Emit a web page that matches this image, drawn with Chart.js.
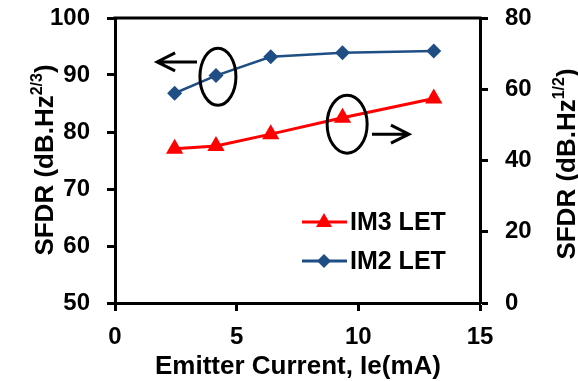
<!DOCTYPE html>
<html>
<head>
<meta charset="utf-8">
<script src="https://cdn.jsdelivr.net/npm/chart.js@4/dist/chart.umd.min.js"></script>
<style>
  html, body { margin: 0; padding: 0; background: #fff; }
  #wrap { width: 578px; height: 381px; }
</style>
</head>
<body>
<div id="wrap"><canvas id="sfdrChart"></canvas></div>
<script>
  // emitter current (mA)
  const current = [2.45, 4.15, 6.4, 9.35, 13.1];
  // IM2 LET -> left axis, dB.Hz^2/3
  const im2 = [86.8, 89.9, 93.2, 93.9, 94.2];
  // IM3 LET -> right axis, dB.Hz^1/2
  const im3 = [43.3, 44.1, 47.4, 52.0, 57.4];

  const xTicks = [0, 5, 10, 15];
  const leftTicks = [50, 60, 70, 80, 90, 100];
  const rightTicks = [0, 20, 40, 60, 80];

  const RED = '#ff0000';
  const BLUE = '#1f4e85';
  const FONT = 'Liberation Sans, Arial, sans-serif';

  const tickFont = { family: FONT, size: 24, weight: 'bold' };

  function axisStyle() {
    return {
      border: { display: true, color: '#000', width: 3 },
      grid: { display: true, drawOnChartArea: false, drawTicks: true, tickLength: 8, tickColor: '#000', tickWidth: 3 },
    };
  }

  function fitV(w) {
    return s => { s.width = w; s.paddingTop = 0; s.paddingBottom = 0; };
  }

  // ellipses + arrows pointing to the axis each curve belongs to
  const notes = [
    { axis: 'y', ex: 4.23, ey: 89.7, rx: 18, ry: 28.5, from: [3.37, 92.3], to: [1.73, 92.3] },
    { axis: 'y2', ex: 9.54, ey: 50.2, rx: 20, ry: 29, from: [10.56, 47.4], to: [12.08, 47.4] }
  ];

  function drawTitle(ctx, x, y, main, sup) {
    ctx.save();
    ctx.translate(x, y);
    ctx.rotate(-Math.PI / 2);
    ctx.fillStyle = '#000';
    ctx.textBaseline = 'alphabetic';
    const big = 'bold 26px ' + FONT;
    const small = 'bold 16px ' + FONT;
    ctx.font = big;
    const w1 = ctx.measureText(main).width;
    const w3 = ctx.measureText(')').width;
    ctx.font = small;
    const w2 = ctx.measureText(sup).width;
    let cx = -(w1 + w2 + w3) / 2;
    ctx.font = big;
    ctx.fillText(main, cx, 0);
    cx += w1;
    ctx.font = small;
    ctx.fillText(sup, cx, -11);
    cx += w2;
    ctx.font = big;
    ctx.fillText(')', cx, 0);
    ctx.restore();
  }

  const extras = {
    id: 'extras',
    afterDraw(chart) {
      const ctx = chart.ctx;
      const { left, right, top } = chart.chartArea;
      const xs = chart.scales.x;

      // top frame line
      ctx.save();
      ctx.strokeStyle = '#000';
      ctx.lineWidth = 3;
      ctx.beginPath();
      ctx.moveTo(left - 1.5, top);
      ctx.lineTo(right + 1.5, top);
      ctx.stroke();

      // annotations
      ctx.lineWidth = 3;
      notes.forEach(n => {
        const ys = chart.scales[n.axis];
        ctx.beginPath();
        ctx.ellipse(xs.getPixelForValue(n.ex), ys.getPixelForValue(n.ey), n.rx, n.ry, 0, 0, Math.PI * 2);
        ctx.stroke();
        const x0 = xs.getPixelForValue(n.from[0]);
        const x1 = xs.getPixelForValue(n.to[0]);
        const yy = ys.getPixelForValue(n.from[1]);
        const dir = x1 > x0 ? -1 : 1;
        ctx.beginPath();
        ctx.moveTo(x0, yy);
        ctx.lineTo(x1, yy);
        ctx.moveTo(x1 + dir * 18, yy - 9);
        ctx.lineTo(x1, yy);
        ctx.lineTo(x1 + dir * 18, yy + 9);
        ctx.stroke();
      });

      // legend
      const items = [
        { label: 'IM3 LET', color: RED, y: 222, shape: 'tri' },
        { label: 'IM2 LET', color: BLUE, y: 261, shape: 'dia' }
      ];
      items.forEach(it => {
        ctx.strokeStyle = it.color;
        ctx.fillStyle = it.color;
        ctx.lineWidth = 3;
        ctx.beginPath();
        ctx.moveTo(302, it.y);
        ctx.lineTo(347, it.y);
        ctx.stroke();
        const cx = 324;
        ctx.beginPath();
        if (it.shape === 'tri') {
          ctx.moveTo(cx, it.y - 9);
          ctx.lineTo(cx + 8, it.y + 5);
          ctx.lineTo(cx - 8, it.y + 5);
        } else {
          ctx.moveTo(cx, it.y - 7);
          ctx.lineTo(cx + 7, it.y);
          ctx.lineTo(cx, it.y + 7);
          ctx.lineTo(cx - 7, it.y);
        }
        ctx.closePath();
        ctx.fill();
        ctx.fillStyle = '#000';
        ctx.font = 'bold 25px ' + FONT;
        ctx.textBaseline = 'middle';
        ctx.textAlign = 'left';
        ctx.fillText(it.label, 350, it.y + 1);
      });
      ctx.restore();

      // axis titles
      drawTitle(ctx, 53, 160, 'SFDR (dB.Hz', '2/3');
      drawTitle(ctx, 575, 164, 'SFDR (dB.Hz', '1/2');

      ctx.save();
      ctx.fillStyle = '#000';
      ctx.font = 'bold 26px ' + FONT;
      ctx.textAlign = 'center';
      ctx.textBaseline = 'middle';
      ctx.fillText('Emitter Current, Ie(mA)', (left + right) / 2 + 0.5, 367);
      ctx.restore();
    }
  };

  new Chart(document.getElementById('sfdrChart'), {
    type: 'line',
    data: {
      datasets: [
        {
          label: 'IM3 LET',
          data: current.map((c, i) => ({ x: c, y: im3[i] })),
          yAxisID: 'y2',
          borderColor: RED,
          backgroundColor: RED,
          borderWidth: 3,
          pointStyle: 'triangle',
          pointRadius: 10,
          pointBorderWidth: 0,
          tension: 0
        },
        {
          label: 'IM2 LET',
          data: current.map((c, i) => ({ x: c, y: im2[i] })),
          yAxisID: 'y',
          borderColor: BLUE,
          backgroundColor: BLUE,
          borderWidth: 2.5,
          pointStyle: 'rectRot',
          pointRadius: 7.5,
          pointBorderWidth: 0,
          tension: 0
        }
      ]
    },
    options: {
      responsive: true,
      maintainAspectRatio: false,
      animation: false,
      layout: { padding: { top: 18, left: 0, right: 0, bottom: 0 } },
      plugins: { legend: { display: false }, tooltip: { enabled: false } },
      scales: {
        x: {
          type: 'linear', min: 0, max: 15,
          afterBuildTicks: s => { s.ticks = xTicks.map(v => ({ value: v })); },
          afterFit: s => { s.height = 78; s.paddingLeft = 0; s.paddingRight = 0; },
          ticks: { font: tickFont, color: '#000', padding: 12, maxRotation: 0 },
          ...axisStyle()
        },
        y: {
          type: 'linear', position: 'left', min: 50, max: 100,
          afterBuildTicks: s => { s.ticks = leftTicks.map(v => ({ value: v })); },
          afterFit: fitV(115),
          ticks: { font: tickFont, color: '#000', padding: 17 },
          ...axisStyle()
        },
        y2: {
          type: 'linear', position: 'right', min: 0, max: 80,
          afterBuildTicks: s => { s.ticks = rightTicks.map(v => ({ value: v })); },
          afterFit: fitV(98),
          ticks: { font: tickFont, color: '#000', padding: 17 },
          ...axisStyle()
        }
      }
    },
    plugins: [extras]
  });
</script>
</body>
</html>
